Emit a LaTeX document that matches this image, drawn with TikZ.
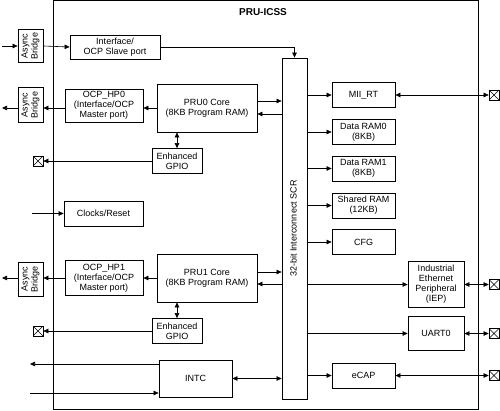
\documentclass[tikz,border=0pt]{standalone}
\usepackage{fontspec}
\setmainfont{Liberation Sans}
\usetikzlibrary{arrows.meta}
\newcommand{\vtext}[1]{\rotatebox{90}{\begin{tabular}{@{}c@{}}#1\end{tabular}}}
\tikzset{
  blk/.style={draw, line width=0.8pt, inner sep=0pt, align=center},
  sz/.style 2 args={minimum width=#1pt, minimum height=#2pt},
  xbox/.style={draw, line width=0.7pt, minimum size=10pt, inner sep=0pt,
    path picture={\draw[line width=0.5pt]
      (path picture bounding box.north west) -- (path picture bounding box.south east)
      (path picture bounding box.north east) -- (path picture bounding box.south west);}},
  arr/.style={-{Triangle[length=5pt,width=4.5pt]}, line width=0.6pt},
  dbl/.style={{Triangle[length=5pt,width=4.5pt]}-{Triangle[length=5pt,width=4.5pt]}, line width=0.6pt}
}
\begin{document}
\begin{tikzpicture}[x=1pt, y=-1pt, font=\fontsize{9}{10}\selectfont]
  \useasboundingbox (0,0) rectangle (500,411);
  \draw[line width=0.8pt] (53,0.5) rectangle (478,409);
  \node[font=\fontsize{10}{12}\selectfont\bfseries] (title) at (263,12) {PRU-ICSS};
  \draw
    (30.5,46) node[blk, sz={25}{33}] (ab1) {\vtext{Async\\Bridge}}
    (115,47) node[blk, sz={90}{24}] (ifc) {Interface/\\OCP Slave port}
    (294.5,228.5) node[blk, sz={25}{341}] (scr) {\vtext{32-bit Interconnect SCR}}
    (30.5,105) node[blk, sz={25}{35}] (ab2) {\vtext{Async\\Bridge}}
    (104,105.5) node[blk, sz={78}{33}] (hp0) {OCP\_HP0\\(Interface/OCP\\Master port)}
    (207,108) node[blk, sz={100}{48}] (pru0) {PRU0 Core\\(8KB Program RAM)}
    (177,161) node[blk, sz={50}{25}] (gpio0) {Enhanced\\GPIO}
    (38,161) node[xbox] (xl0) {}
    (103.5,213.5) node[blk, sz={79}{25}] (clk) {Clocks/Reset}
    (30.5,279) node[blk, sz={25}{34}] (ab3) {\vtext{Async\\Bridge}}
    (104,278) node[blk, sz={78}{35}] (hp1) {OCP\_HP1\\(Interface/OCP\\Master port)}
    (207,278) node[blk, sz={100}{48}] (pru1) {PRU1 Core\\(8KB Program RAM)}
    (177,331) node[blk, sz={50}{25}] (gpio1) {Enhanced\\GPIO}
    (38,331) node[xbox] (xl1) {}
    (195.5,378.5) node[blk, sz={73}{37}] (intc) {INTC}
    (363.5,95) node[blk, sz={63}{25}] (mii) {MII\_RT}
    (363.5,132) node[blk, sz={63}{25}] (ram0) {Data RAM0\\(8KB)}
    (363.5,168.5) node[blk, sz={63}{25}] (ram1) {Data RAM1\\(8KB)}
    (363.5,205.5) node[blk, sz={63}{25}] (shram) {Shared RAM\\(12KB)}
    (363.5,242) node[blk, sz={63}{25}] (cfg) {CFG}
    (436,284.5) node[blk, sz={56}{46}] (iep) {Industrial\\Ethernet\\Peripheral\\(IEP)}
    (436,333.5) node[blk, sz={56}{34}] (uart) {UART0}
    (363.5,375.5) node[blk, sz={63}{25}] (ecap) {eCAP}
    (494,95) node[xbox] (xr0) {}
    (494,284.5) node[xbox] (xr1) {}
    (494,333.5) node[xbox] (xr2) {}
    (494,375.5) node[xbox] (xr3) {};
  \coordinate (in1) at (2,46);
  \coordinate (out2) at (2,108);
  \coordinate (out3) at (2,278);
  \coordinate (clkin) at (32,213.5);
  \coordinate (intout) at (30,364);
  \coordinate (intin) at (30,393);
  \begin{scope}[arr]
    \draw (in1) -- (ab1.west);
    \draw (ab1.east) -- (ifc.west);
    \draw (ifc.east) -| (scr.north);
    \draw (pru0.west) -- (pru0.west -| hp0.east);
    \draw (hp0.west |- pru0.west) -- (pru0.west -| ab2.east);
    \draw (ab2.west |- pru0.west) -- (out2);
    \draw ([yshift=7pt]pru0.east) -- ([yshift=7pt]pru0.east -| scr.west);
    \draw ([yshift=-6pt]pru0.east -| scr.west) -- ([yshift=-6pt]pru0.east);
    \draw (gpio0.west) -- (xl0.east);
    \draw (clkin) -- (clk.west);
    \draw (pru1.west) -- (hp1.east);
    \draw (hp1.west) -- (hp1.west -| ab3.east);
    \draw (ab3.west |- hp1.west) -- (out3);
    \draw ([yshift=6pt]pru1.east) -- ([yshift=6pt]pru1.east -| scr.west);
    \draw ([yshift=-6pt]pru1.east -| scr.west) -- ([yshift=-6pt]pru1.east);
    \draw (gpio1.west) -- (xl1.east);
    \draw ([yshift=14.5pt]intc.west) -- (intout);
    \draw (intin) -- ([yshift=-14.5pt]intc.west);
    \draw (scr.east |- mii) -- (mii.west);
    \draw (scr.east |- ram0) -- (ram0.west);
    \draw (scr.east |- ram1) -- (ram1.west);
    \draw (scr.east |- shram) -- (shram.west);
    \draw (scr.east |- cfg) -- (cfg.west);
    \draw (scr.east |- iep) -- (iep.west);
    \draw (scr.east |- uart) -- (uart.west);
    \draw (scr.east |- ecap) -- (ecap.west);
  \end{scope}
  \begin{scope}[dbl]
    \draw (gpio0.north) -- (gpio0.north |- pru0.south);
    \draw (gpio1.north) -- (gpio1.north |- pru1.south);
    \draw (intc.east) -- (intc.east -| scr.west);
    \draw (mii.east) -- (xr0.west);
    \draw (iep.east) -- (xr1.west);
    \draw (uart.east) -- (xr2.west);
    \draw (ecap.east) -- (xr3.west);
  \end{scope}
\end{tikzpicture}
\end{document}
